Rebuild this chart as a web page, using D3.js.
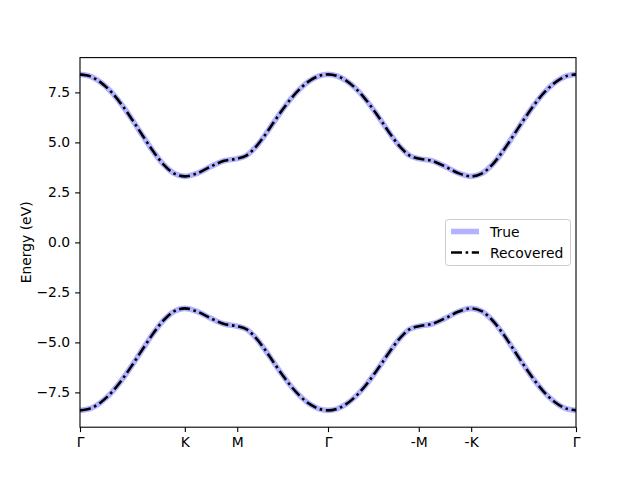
<!DOCTYPE html>
<html><head><meta charset="utf-8">
<script src="https://cdn.jsdelivr.net/npm/d3@7"></script>
<style>body{margin:0;background:#fff}svg{display:block}text{font-family:"DejaVu Sans",sans-serif}</style>
</head><body><svg id="c" width="640" height="480"></svg>
<script>
// k-path positions (path length units) and band energies (eV)
const kPath = [0,0.1,0.2,0.3,0.4,0.5,0.6,0.7,0.8,0.9,1.0,
  1.125,1.25,1.375,1.5,
  1.5866,1.6732,1.7598,1.8464,1.933,2.0196,2.1062,2.1928,2.2794,2.366,
  2.4526,2.5392,2.6258,2.7124,2.799,2.8856,2.9722,3.0588,3.1454,3.232,
  3.357,3.482,3.607,3.732,
  3.832,3.932,4.032,4.132,4.232,4.332,4.432,4.532,4.632,4.732];
const conductionBand = [8.40,8.30,7.99,7.51,6.87,6.12,5.32,4.54,3.88,3.44,3.30,
  3.47,3.80,4.08,4.19,
  4.34,4.75,5.33,5.99,6.64,7.23,7.72,8.09,8.32,8.40,
  8.32,8.09,7.72,7.23,6.64,5.99,5.33,4.75,4.34,4.19,
  4.08,3.80,3.47,3.30,
  3.44,3.88,4.54,5.32,6.12,6.87,7.51,7.99,8.30,8.40];
const valenceBand = [-8.40,-8.30,-7.99,-7.51,-6.87,-6.12,-5.32,-4.54,-3.88,-3.44,-3.30,
  -3.47,-3.80,-4.08,-4.19,
  -4.34,-4.75,-5.33,-5.99,-6.64,-7.23,-7.72,-8.09,-8.32,-8.40,
  -8.32,-8.09,-7.72,-7.23,-6.64,-5.99,-5.33,-4.75,-4.34,-4.19,
  -4.08,-3.80,-3.47,-3.30,
  -3.44,-3.88,-4.54,-5.32,-6.12,-6.87,-7.51,-7.99,-8.30,-8.40];
const kTickPos = [0,1,1.5,2.366,3.232,3.732,4.732];
const kTickLabels = ["Γ","K","M","Γ","-M","-K","Γ"];
const yTicks = [-7.5,-5.0,-2.5,0.0,2.5,5.0,7.5];
const seriesNames = ["True","Recovered"];

const svg = d3.select("#c");
const L=80,R=576,T=57.6,B=427.2;
const x = d3.scaleLinear().domain([0,4.732]).range([L,R]);
const y = d3.scaleLinear().domain([-9.24,9.24]).range([B,T]);
const fs = 13.9;

const line = d3.line().x((d,i)=>x(kPath[i])).y(d=>y(d)).curve(d3.curveCatmullRom);
const bands=[conductionBand,valenceBand];
const g=svg.append("g");
bands.forEach(b=>{
  g.append("path").attr("d",line(b)).attr("fill","none")
    .attr("stroke","#0000ff").attr("stroke-opacity",0.3).attr("stroke-width",5.6);
});
bands.forEach(b=>{
  g.append("path").attr("d",line(b)).attr("fill","none")
    .attr("stroke","#000").attr("stroke-width",2.6)
    .attr("stroke-dasharray","11,3.6,2.6,3.6");
});

// frame
svg.append("rect").attr("x",L).attr("y",T).attr("width",R-L).attr("height",B-T)
  .attr("fill","none").attr("stroke","#000").attr("stroke-width",1.1);

// x axis
const xa = svg.append("g").attr("transform",`translate(0,${B})`)
  .call(d3.axisBottom(x).tickValues(kTickPos).tickFormat((d,i)=>kTickLabels[i]).tickSize(4.9).tickPadding(4.9));
xa.select(".domain").remove();
xa.selectAll("line").attr("stroke","#000").attr("stroke-width",1.1);
xa.selectAll("text").attr("font-size",fs).attr("fill","#000").attr("font-family","DejaVu Sans");

const ya = svg.append("g").attr("transform",`translate(${L},0)`)
  .call(d3.axisLeft(y).tickValues(yTicks).tickFormat(d=>d3.format(".1f")(d).replace("-","−")).tickSize(4.9).tickPadding(4.9));
ya.select(".domain").remove();
ya.selectAll("line").attr("stroke","#000").attr("stroke-width",1.1);
ya.selectAll("text").attr("font-size",fs).attr("fill","#000").attr("font-family","DejaVu Sans");

svg.append("text").attr("transform",`translate(31,${(T+B)/2}) rotate(-90)`)
  .attr("text-anchor","middle").attr("font-size",fs).text("Energy (eV)");

// legend
const lg = svg.append("g");
lg.append("rect").attr("x",445.5).attr("y",219.5).attr("width",125).attr("height",46).attr("rx",3)
  .attr("fill","#fff").attr("fill-opacity",0.8).attr("stroke","#ccc").attr("stroke-width",1);
const styles=[{c:"#0000ff",o:0.3,w:5.6,d:null},{c:"#000",o:1,w:2.6,d:"11,3.6,2.6,3.6"}];
seriesNames.forEach((n,i)=>{
  const yy=231.5+i*21;
  const s=styles[i];
  lg.append("line").attr("x1",451).attr("x2",479).attr("y1",yy).attr("y2",yy)
    .attr("stroke",s.c).attr("stroke-opacity",s.o).attr("stroke-width",s.w)
    .attr("stroke-dasharray",s.d);
  lg.append("text").attr("x",490).attr("y",yy+5).attr("font-size",fs).text(n);
});
</script></body></html>
